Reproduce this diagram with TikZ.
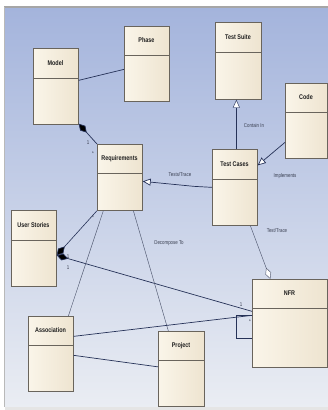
\documentclass[tikz,border=0pt]{standalone}
\usepackage{fontspec}
\setmainfont{Liberation Sans}
\newfontfamily\narrowfont[FakeStretch=0.8]{Liberation Sans}
\usetikzlibrary{arrows.meta,calc}
\definecolor{bgtop}{RGB}{164,180,220}
\definecolor{bgbot}{RGB}{234,237,243}
\definecolor{boxfillL}{RGB}{250,245,233}
\definecolor{boxfillR}{RGB}{238,228,208}
\definecolor{boxline}{RGB}{105,100,92}
\definecolor{navy}{RGB}{38,50,88}
\definecolor{thinc}{RGB}{78,86,110}
\definecolor{lblc}{RGB}{55,60,78}
\newcommand{\umlclass}[7]{%
  \node[classbox, anchor=north west, minimum width={(#4-#2)*1pt}, minimum height={(#5-#3)*1pt}] (#1) at (#2,#3) {};
  \draw[draw=boxline, line width=0.7pt] (#2,#6) -- (#4,#6);
  \node[ctitle] (#1-t) at ({(#2+#4)/2},{(#3+#6)/2}) {#7};
}
\begin{document}
\begin{tikzpicture}[x=1pt,y=-1pt,
  classbox/.style={draw=boxline, line width=0.7pt, left color=boxfillL, right color=boxfillR, inner sep=0pt},
  ctitle/.style={font=\narrowfont\bfseries\fontsize{6.8}{7}\selectfont, text={rgb,255:red,30;green,30;blue,30}},
  clabel/.style={font=\narrowfont\fontsize{5.5}{6}\selectfont, text=lblc, inner sep=0pt},
  mult/.style={font=\narrowfont\fontsize{5.5}{6}\selectfont, text=lblc, inner sep=0pt},
  assoc/.style={draw=navy, line width=0.7pt},
  thinline/.style={draw=thinc, line width=0.45pt},
  gen/.style={-{Triangle[open, length=8pt, width=7pt, fill=white]}},
  comp/.style={{Diamond[length=12pt, width=7pt, fill=black]}-},
  aggr/.style={-{Diamond[open, length=12pt, width=6pt, fill=white]}}
]
\useasboundingbox (0,0) rectangle (328,410);
\fill[white] (0,0) rectangle (328,410);
\shade[top color=bgtop, bottom color=bgbot] (5,8) rectangle (328,407);
\draw[gray!70, line width=1.4pt] (4,7) -- (328,7);
\draw[gray!55, line width=0.9pt] (4.5,7) -- (4.5,407);
\fill[gray!20] (5,407) rectangle (328,410);

\umlclass{model}{33}{48}{78}{124}{78}{Model}
\umlclass{phase}{124}{26}{169}{101}{55}{Phase}
\umlclass{testsuite}{215}{22}{261}{99}{52}{Test Suite}
\umlclass{code}{285}{83}{327}{158}{112}{Code}
\umlclass{requirements}{97}{144}{142}{210}{173}{Requirements}
\umlclass{testcases}{212}{149}{257}{225}{179}{Test Cases}
\umlclass{userstories}{11}{210}{56}{286}{240}{User Stories}
\umlclass{association}{28}{316}{73}{391}{345}{Association}
\umlclass{project}{158}{331}{204}{406}{360}{Project}
\umlclass{nfr}{252}{279}{327}{367}{308}{NFR}

% Model -- Phase
\draw[assoc] ([yshift=6pt]model.east) -- ([yshift=-5.5pt]phase.west);
% Model <>-- Requirements
\draw[assoc, comp] ([yshift=1pt]model.south east) -- (requirements.north west);
\node[mult] (m1) at (88,143) {1};
\node[mult] (m2) at (93,154) {*};
% Test Cases --|> Test Suite
\draw[thinline, draw=navy, gen] ([xshift=1.5pt]testcases.north) -- ([xshift=-2pt]testsuite.south);
\node[clabel] (l1) at (254,126) {Contain In};
% Code --|> Test Cases
\draw[assoc, gen] ([yshift=-21.5pt]code.west) -- ([yshift=22pt]testcases.east);
\node[clabel] (l2) at (285,176) {Implements};
% Test Cases --|> Requirements
\draw[assoc, gen] (testcases.west) -- ([xshift=-18pt,yshift=1pt]testcases.west) -- ([yshift=-4pt]requirements.east);
\node[clabel] (l3) at (180,175) {Tests/Trace};
% Test Cases -- <> NFR
\draw[thinline, aggr] ([xshift=15.5pt]testcases.south) -- ([xshift=-19.5pt]nfr.north);
\node[clabel] (l4) at (277,231) {Test/Trace};
% User Stories <>-- NFR
\draw[assoc, comp] ([yshift=-7pt]userstories.east) -- ([yshift=12pt]nfr.west);
\node[mult] (m3) at (68,257) {1};
\node[mult] (m4) at (68,268) {1};
\node[mult] (m5) at (241,305) {1};
\node[mult] (m6) at (250,322) {*};
% Requirements -- <> User Stories
\draw[thinline, draw=navy, line width=0.6pt, comp] ([yshift=-7pt]userstories.east) -- (requirements.south west);
\node[mult] (m7) at (93,218) {*};
% Requirements -- Association
\draw[thinline] ([xshift=-16.5pt]requirements.south) -- ([xshift=17.5pt]association.north);
% Requirements -- Project
\draw[thinline] ([xshift=13.5pt]requirements.south) -- ([xshift=-13pt]project.north);
\node[clabel] (l5) at (169,243) {Decompose To};
% Association -- NFR
\draw[assoc] ([yshift=17.5pt]association.east) -- ([yshift=8pt]nfr.west);
% Association -- Project
\draw[assoc] ([yshift=-1.5pt]association.east) -- ([yshift=2pt]project.west);
% NFR self association
\draw[thinline, draw=navy] ([yshift=8pt]nfr.west) -- ++(-16,0) |- ([yshift=-15pt]nfr.west);
\end{tikzpicture}
\end{document}
